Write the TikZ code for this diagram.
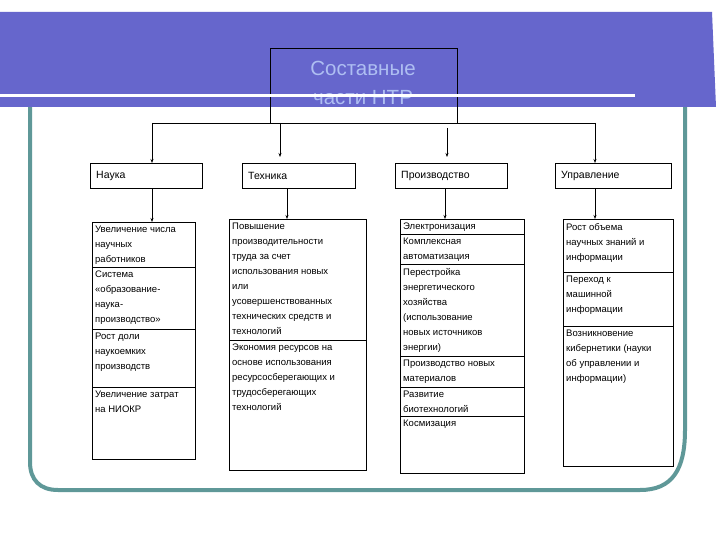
\documentclass[tikz,border=0pt]{standalone}
\usepackage{fontspec}
\setmainfont{Liberation Sans}
\usetikzlibrary{arrows.meta}
\definecolor{band}{HTML}{6666CC}
\definecolor{frame}{HTML}{5F9898}
\definecolor{titlec}{HTML}{AEBEF2}
\tikzset{
  cellt/.style={anchor=north west,inner xsep=3pt,inner ysep=4pt,align=left,font=\fontsize{9.5}{15}\selectfont},
  head/.style={draw,thin,anchor=north west,minimum height=25pt,inner xsep=5pt,font=\fontsize{10.5}{12}\selectfont},
  arr/.style={-{Stealth[length=4pt,width=3pt]},thick},
  box/.style={draw,thin}
}
\newcommand{\cellbox}[6]{\draw[box] (#2,#3) rectangle (#4,#5); \node[cellt] (#1) at (#2,#3) {#6};}
\begin{document}
\begin{tikzpicture}[x=1pt,y=-1pt]
\useasboundingbox (0,0) rectangle (720,540);
\fill[white] (0,0) rectangle (720,540);
% frame
\draw[frame,line width=4pt] (30,100) -- (30,462) .. controls (30,480) and (40,490) .. (58,490) -- (640,490) .. controls (672,490) and (685,470) .. (685,430) -- (685,100);
% band
\fill[band] (0,12) -- (712,12) -- (716,107) -- (0,107) -- cycle;
% title
\draw[thin] (270,48) rectangle (457,123);
\node[font=\fontsize{20.5}{29}\selectfont,text=titlec,align=center] (title) at (363,83) {Составные\\части НТР};
\draw[white,line width=3pt] (0,96) -- (635,96);
% headers
\node[head,minimum width=112pt,text width=100pt] (h1) at (90,163) {Наука};
\node[head,minimum width=113pt,text width=101pt] (h2) at (242,163) {Техника};
\node[head,minimum width=112pt,text width=100pt] (h3) at (395,163) {Производство};
\node[head,minimum width=116pt,text width=104pt] (h4) at (555,163) {Управление};
\coordinate (L) at (152,123); \coordinate (R) at (595,123);
\draw[thick] (L) -- (R);
\draw[arr] (L) -- (h1.north -| L);
\draw[arr] (280,123) -- (280,157);
\draw[arr] (447,128) -- (447,157);
\draw[arr] (R) -- (h4.north -| R);
% column 1
\cellbox{a1}{92}{222}{195}{267}{Увеличение числа\\научных\\работников}
\cellbox{a2}{92}{267}{195}{329}{Система\\«образование-\\наука-\\производство»}
\cellbox{a3}{92}{329}{195}{387}{Рост доли\\наукоемких\\производств}
\cellbox{a4}{92}{387}{195}{459}{Увеличение затрат\\на НИОКР}
% column 2
\cellbox{b1}{229}{219}{366}{340}{Повышение\\производительности\\труда за счет\\использования новых\\или\\усовершенствованных\\технических средств и\\технологий}
\cellbox{b2}{229}{340}{366}{470}{Экономия ресурсов на\\основе использования\\ресурсосберегающих и\\трудосберегающих\\технологий}
% column 3
\cellbox{c1}{400}{219}{524}{234}{Электронизация}
\cellbox{c2}{400}{234}{524}{264}{Комплексная\\автоматизация}
\cellbox{c3}{400}{264}{524}{356}{Перестройка\\энергетического\\хозяйства\\(использование\\новых источников\\энергии)}
\cellbox{c4}{400}{356}{524}{387}{Производство новых\\материалов}
\cellbox{c5}{400}{387}{524}{416}{Развитие\\биотехнологий}
\cellbox{c6}{400}{416}{524}{473}{Космизация}
% column 4
\cellbox{d1}{563}{219}{673}{272}{Рост объема\\научных знаний и\\информации}
\cellbox{d2}{563}{272}{673}{326}{Переход к\\машинной\\информации}
\cellbox{d3}{563}{326}{673}{466}{Возникновение\\кибернетики (науки\\об управлении и\\информации)}
% connectors
\draw[arr] (h1.south -| 152,0) -- (152,222);
\draw[arr] (h2.south -| 287,0) -- (287,219);
\draw[arr] (h3.south -| 445,0) -- (445,219);
\draw[arr] (h4.south -| 595,0) -- (595,219);
\end{tikzpicture}
\end{document}
